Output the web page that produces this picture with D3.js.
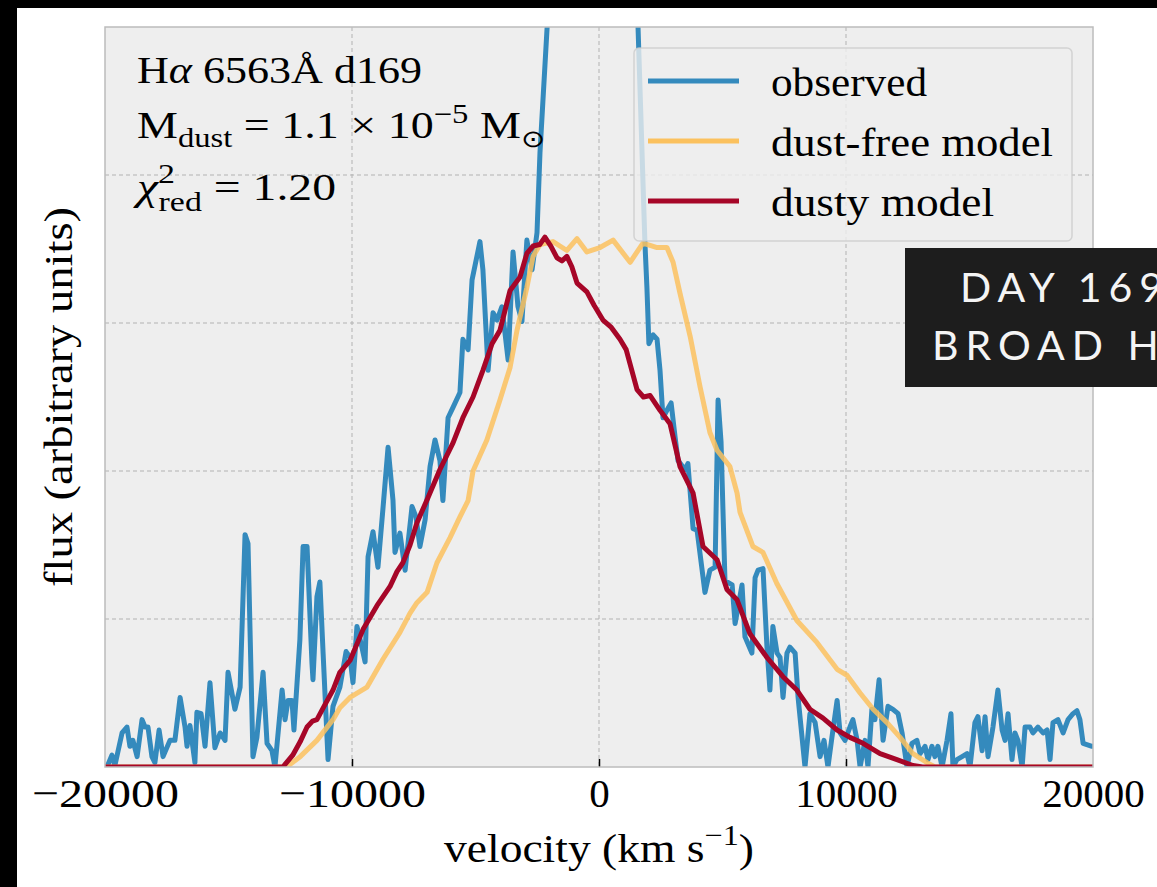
<!DOCTYPE html>
<html>
<head>
<meta charset="utf-8">
<script src="https://cdn.jsdelivr.net/npm/d3@7"></script>
<style>
    html, body { margin: 0; padding: 0; background: #000; }
    svg { display: block; }
</style>
</head>
<body>
<svg id="chart" width="1157" height="887"></svg>
<script>
//
// DATA
//
const xTicks = [-20000, -10000, 0, 10000, 20000]
const yGrid = [1, 2, 3, 4]
const seriesNames = ['observed', 'dust-free model', 'dusty model']
const seriesColors = ['#348ABD', '#FBC15E', '#A60628']

// [velocity km/s, flux in arbitrary units]
const observed = [
    [-20000, 0.02], [-19920, 0.0], [-19720, 0.08], [-19600, 0.01], [-19310, 0.23], [-19110, 0.27],
    [-18990, 0.14], [-18870, 0.18], [-18700, 0.07], [-18500, 0.32], [-18380, 0.27], [-18260, 0.27],
    [-18100, 0.07], [-17980, 0.03], [-17810, 0.25], [-17650, 0.07], [-17370, 0.18], [-17170, 0.18],
    [-16960, 0.47], [-16760, 0.27], [-16680, 0.14], [-16560, 0.28], [-16360, 0.03], [-16280, 0.37],
    [-16110, 0.36], [-15950, 0.14], [-15750, 0.57], [-15550, 0.13], [-15340, 0.23], [-15140, 0.18],
    [-15020, 0.64], [-14740, 0.39], [-14530, 0.54], [-14330, 1.57], [-14210, 1.51], [-14010, 0.07],
    [-13850, 0.2], [-13600, 0.64], [-13440, 0.16], [-13240, 0.11], [-13120, 0.0], [-12830, 0.52],
    [-12710, 0.32], [-12590, 0.45], [-12430, 0.45], [-12350, 0.25], [-12110, 0.86], [-11980, 1.49],
    [-11820, 1.49], [-11620, 0.7], [-11580, 0.59], [-11420, 1.15], [-11300, 1.25], [-11170, 0.77],
    [-10970, 0.05], [-10770, 0.41], [-10490, 0.54], [-10240, 0.78], [-10080, 0.74], [-9960, 0.57],
    [-9800, 0.95], [-9600, 0.81], [-9470, 0.71], [-9350, 1.42], [-9150, 1.59], [-8950, 1.35],
    [-8750, 1.74], [-8540, 2.16], [-8340, 1.8], [-8260, 1.45], [-8060, 1.58], [-7850, 1.33],
    [-7570, 1.76], [-7410, 1.69], [-7250, 1.49], [-7040, 1.67], [-6840, 2.03], [-6640, 2.21],
    [-6440, 2.07], [-6320, 1.8], [-6110, 2.36], [-5910, 2.43], [-5630, 2.53], [-5510, 2.89],
    [-5300, 2.82], [-5140, 3.29], [-4820, 3.55], [-4700, 3.36], [-4490, 2.68], [-4290, 3.07],
    [-4130, 3.02], [-3930, 3.11], [-3680, 2.75], [-3480, 3.48], [-3280, 3.11], [-3120, 3.01],
    [-2920, 3.56], [-2710, 3.36], [-2510, 3.61], [-2390, 4.15], [-2100, 5.0], [-1800, 8.0],
    [-1200, 11.5], [-500, 13.5], [200, 13.0], [900, 10.0], [1400, 7.0], [1580, 5.0],
    [1860, 3.54], [1940, 3.24], [2020, 2.86], [2190, 2.92], [2350, 2.89], [2470, 2.68],
    [2590, 2.36], [2750, 2.41], [2920, 2.46], [3080, 2.23], [3200, 2.07], [3480, 2.01],
    [3600, 2.05], [3810, 1.61], [3970, 1.6], [4290, 1.18], [4490, 1.33], [4700, 1.35],
    [4820, 2.48], [4940, 2.2], [5100, 1.26], [5390, 1.23], [5510, 0.97], [5790, 1.23],
    [5910, 0.88], [6190, 0.77], [6320, 1.28], [6440, 1.33], [6640, 1.34], [6800, 0.81],
    [6920, 0.52], [7040, 0.95], [7210, 0.77], [7330, 0.74], [7450, 0.47], [7610, 0.77],
    [7730, 0.81], [7940, 0.77], [8060, 0.47], [8340, 0.0], [8540, 0.36], [8750, 0.3],
    [8950, 0.07], [9110, 0.18], [9270, 0.0], [9430, 0.2], [9640, 0.45], [9760, 0.23],
    [9960, 0.18], [10160, 0.27], [10280, 0.32], [10450, 0.18], [10570, 0.0], [10770, 0.18],
    [10890, 0.0], [11050, 0.39], [11170, 0.32], [11340, 0.59], [11500, 0.18], [11700, 0.41],
    [11900, 0.39], [12110, 0.36], [12270, 0.23], [12470, 0.0], [12670, 0.16], [12870, 0.18],
    [13000, 0.09], [13200, 0.14], [13320, 0.05], [13480, 0.14], [13600, 0.07], [13720, 0.14],
    [13890, 0.0], [14090, 0.18], [14250, 0.36], [14330, 0.0], [14490, 0.05], [14700, 0.07],
    [14900, 0.09], [15020, 0.0], [15220, 0.3], [15340, 0.34], [15510, 0.11], [15630, 0.34],
    [15750, 0.07], [15950, 0.27], [16150, 0.52], [16320, 0.25], [16440, 0.18], [16560, 0.36],
    [16720, 0.05], [16840, 0.23], [16960, 0.18], [17130, 0.0], [17250, 0.27], [17450, 0.27],
    [17570, 0.23], [17770, 0.27], [17980, 0.23], [18140, 0.25], [18260, 0.05], [18380, 0.3],
    [18580, 0.32], [18790, 0.23], [18990, 0.32], [19190, 0.36], [19350, 0.38], [19470, 0.32],
    [19600, 0.16], [19960, 0.14], [20000, 0.14]
]

const dustFree = [
    [-20000, 0], [-12650, 0], [-12100, 0.07], [-11420, 0.18], [-10770, 0.32], [-10490, 0.4],
    [-10080, 0.47], [-9390, 0.54], [-8740, 0.73], [-8060, 0.91], [-7650, 1.04], [-7370, 1.11],
    [-6960, 1.18], [-6560, 1.38], [-6030, 1.55], [-5630, 1.69], [-5300, 1.8], [-5100, 2.0],
    [-4540, 2.21], [-4010, 2.48], [-3600, 2.7], [-3320, 2.95], [-2920, 3.24], [-2670, 3.45],
    [-2390, 3.53], [-1860, 3.55], [-1300, 3.49], [-890, 3.57], [-490, 3.48], [40, 3.51],
    [570, 3.56], [1260, 3.41], [1780, 3.54], [2350, 3.51], [2750, 3.51], [3000, 3.41],
    [3280, 3.2], [3690, 2.91], [4090, 2.57], [4490, 2.26], [4780, 2.14], [5300, 2.03],
    [5590, 1.85], [5710, 1.72], [6230, 1.49], [6640, 1.45], [7200, 1.24], [8010, 0.99],
    [8830, 0.84], [9640, 0.66], [10040, 0.62], [10570, 0.5], [11100, 0.39], [11660, 0.3],
    [12190, 0.2], [12710, 0.09], [13280, 0.03], [13600, 0], [20000, 0]
]

const dusty = [
    [-20000, 0], [-12800, 0], [-12400, 0.08], [-12100, 0.17], [-11820, 0.27], [-11600, 0.31],
    [-11420, 0.32], [-11100, 0.42], [-10770, 0.52], [-10490, 0.64], [-10080, 0.72], [-9550, 0.93],
    [-8990, 1.09], [-8460, 1.22], [-8180, 1.32], [-7940, 1.38], [-7650, 1.5], [-7370, 1.65],
    [-6925, 1.82], [-6440, 2.01], [-5910, 2.19], [-5510, 2.36], [-5100, 2.5], [-4700, 2.68],
    [-4330, 2.86], [-4010, 2.95], [-3600, 3.22], [-3200, 3.31], [-2920, 3.47], [-2670, 3.52],
    [-2400, 3.53], [-2190, 3.58], [-1950, 3.52], [-1700, 3.44], [-1500, 3.42], [-1300, 3.45],
    [-1100, 3.38], [-890, 3.27], [-490, 3.21], [-200, 3.12], [160, 3.02], [500, 2.97],
    [850, 2.89], [1100, 2.82], [1540, 2.55], [1800, 2.5], [2070, 2.51], [2470, 2.41],
    [2875, 2.32], [3280, 2.03], [3810, 1.85], [4210, 1.49], [4780, 1.4], [5180, 1.2],
    [5590, 1.13], [6110, 0.9], [6800, 0.74], [7450, 0.61], [8010, 0.52], [8540, 0.39],
    [9070, 0.33], [9640, 0.25], [10160, 0.2], [10690, 0.16], [11380, 0.09], [12060, 0.05],
    [12710, 0.01], [13100, 0], [20000, 0]
]

//
// LAYOUT
//
const W = 1157
const H = 887
const plot = { left: 105, right: 1093, top: 27, bottom: 767 }
const serif = "'Liberation Serif', 'Times New Roman', serif"
// Computer Modern's minus sign runs wider than Times, stretch negative labels
const widen = 1.17

const svg = d3.select('#chart')

// figure background: black strips at top and left, white page
svg.append('rect').attr('width', W).attr('height', H).attr('fill', '#000')
svg.append('rect')
    .attr('x', 17)
    .attr('y', 8)
    .attr('width', W - 17)
    .attr('height', H - 8)
    .attr('fill', '#fff')

// scales
const x = d3.scaleLinear().domain([-20000, 20000]).range([plot.left, plot.right])
const y = d3.scaleLinear().domain([0, 5]).range([plot.bottom, plot.top])

// axes background
svg.append('rect')
    .attr('x', plot.left)
    .attr('y', plot.top)
    .attr('width', plot.right - plot.left)
    .attr('height', plot.bottom - plot.top)
    .attr('fill', '#eeeeee')

// dashed grid
const grid = svg.append('g').attr('stroke', '#b2b2b2').attr('stroke-width', 1).attr('stroke-dasharray', '4,3')
grid.selectAll('.gx')
    .data(xTicks.slice(1, -1))
    .enter()
    .append('line')
    .attr('x1', d => x(d))
    .attr('x2', d => x(d))
    .attr('y1', plot.top)
    .attr('y2', plot.bottom)
grid.selectAll('.gy')
    .data(yGrid)
    .enter()
    .append('line')
    .attr('x1', plot.left)
    .attr('x2', plot.right)
    .attr('y1', d => y(d))
    .attr('y2', d => y(d))

// clip the spectra to the axes
svg.append('clipPath')
    .attr('id', 'plotClip')
    .append('rect')
    .attr('x', plot.left)
    .attr('y', plot.top)
    .attr('width', plot.right - plot.left)
    .attr('height', plot.bottom - plot.top)

const line = d3.line().x(d => x(d[0])).y(d => y(d[1]))
const series = [observed, dustFree, dusty]
const opacities = [1, 0.85, 1]

svg.append('g')
    .attr('clip-path', 'url(#plotClip)')
    .selectAll('path')
    .data(series)
    .enter()
    .append('path')
    .attr('d', d => line(d))
    .attr('fill', 'none')
    .attr('stroke', (d, i) => seriesColors[i])
    .attr('stroke-opacity', (d, i) => opacities[i])
    .attr('stroke-width', 5)
    .attr('stroke-linejoin', 'round')

// x axis: ticks point inward, labels below
const xAxis = d3.axisBottom(x)
    .tickValues(xTicks)
    .tickSizeInner(-8)
    .tickSizeOuter(0)
    .tickPadding(11)
    .tickFormat(d3.format('d'))
const gx = svg.append('g').attr('transform', `translate(0,${plot.bottom})`).call(xAxis)
gx.select('.domain').remove()
gx.selectAll('.tick line')
    .filter(d => Math.abs(d) === 20000)
    .remove()
gx.selectAll('.tick line').attr('stroke', '#000').attr('stroke-width', 1.5)
gx.selectAll('text')
    .attr('font-family', serif)
    .attr('font-size', 41)
    .attr('fill', '#000')
    .filter(d => d < 0)
    .each(function () {
        d3.select(this)
            .attr('textLength', this.getComputedTextLength() * widen)
            .attr('lengthAdjust', 'spacingAndGlyphs')
    })

// frame
svg.append('rect')
    .attr('x', plot.left)
    .attr('y', plot.top)
    .attr('width', plot.right - plot.left)
    .attr('height', plot.bottom - plot.top)
    .attr('fill', 'none')
    .attr('stroke', '#bcbcbc')
    .attr('stroke-width', 1.5)

// axis titles
const xTitle = svg.append('text')
    .attr('x', (plot.left + plot.right) / 2)
    .attr('y', 862)
    .attr('text-anchor', 'middle')
    .attr('font-family', serif)
    .attr('font-size', 41)
    .attr('textLength', 310)
    .attr('lengthAdjust', 'spacingAndGlyphs')
xTitle.append('tspan').text('velocity (km s')
xTitle.append('tspan').attr('font-size', 29).attr('dy', -17).text('−1')
xTitle.append('tspan').attr('dy', 17).text(')')

svg.append('text')
    .attr('transform', `translate(72,${(plot.top + plot.bottom) / 2}) rotate(-90)`)
    .attr('text-anchor', 'middle')
    .attr('font-family', serif)
    .attr('font-size', 41)
    .attr('textLength', 380)
    .attr('lengthAdjust', 'spacingAndGlyphs')
    .text('flux (arbitrary units)')

// annotation in the upper left corner
const note = svg.append('g').attr('font-family', serif).attr('font-size', 38).attr('fill', '#000')
const l1 = note.append('text').attr('x', 137).attr('y', 83)
    .attr('textLength', 285).attr('lengthAdjust', 'spacingAndGlyphs')
l1.append('tspan').text('H')
l1.append('tspan').attr('font-style', 'italic').text('α')
l1.append('tspan').text(' 6563Å d169')

const l2 = note.append('text').attr('x', 137).attr('y', 138)
    .attr('textLength', 408).attr('lengthAdjust', 'spacingAndGlyphs')
l2.append('tspan').text('M')
l2.append('tspan').attr('font-size', 27).attr('dy', 9).text('dust')
l2.append('tspan').attr('dy', -9).text(' = 1.1 × 10')
l2.append('tspan').attr('font-size', 27).attr('dy', -15).text('−5')
l2.append('tspan').attr('dy', 15).text(' M')
l2.append('tspan').attr('font-size', 24).attr('dy', 9).text('⊙')

const l3 = note.append('text').attr('x', 137).attr('y', 200)
    .attr('textLength', 199).attr('lengthAdjust', 'spacingAndGlyphs')
l3.append('tspan').attr('font-style', 'italic').text('χ')
l3.append('tspan').attr('font-size', 27).attr('dy', -17).text('2')
l3.append('tspan').attr('font-size', 27).attr('dx', -13).attr('dy', 28).text('red')
l3.append('tspan').attr('dy', -11).text(' = 1.20')

// legend
const legendWidths = [156, 282, 223]
const legend = svg.append('g')
legend.append('rect')
    .attr('x', 634)
    .attr('y', 48)
    .attr('width', 438)
    .attr('height', 193)
    .attr('rx', 5)
    .attr('fill', '#eeeeee')
    .attr('fill-opacity', 0.8)
    .attr('stroke', '#cccccc')
    .attr('stroke-opacity', 0.8)
    .attr('stroke-width', 1.5)
const items = legend.selectAll('.item')
    .data(seriesNames)
    .enter()
    .append('g')
    .attr('transform', (d, i) => `translate(0,${81 + i * 60})`)
items.append('line')
    .attr('x1', 648)
    .attr('x2', 739)
    .attr('stroke', (d, i) => seriesColors[i])
    .attr('stroke-width', 5)
items.append('text')
    .attr('x', 771)
    .attr('y', 15)
    .attr('font-family', serif)
    .attr('font-size', 41)
    .attr('textLength', (d, i) => legendWidths[i])
    .attr('lengthAdjust', 'spacingAndGlyphs')
    .text(d => d)

// dark caption box laid over the figure
svg.append('rect')
    .attr('x', 905)
    .attr('y', 248)
    .attr('width', W - 905)
    .attr('height', 139)
    .attr('fill', '#1d1d1d')
const caption = svg.append('g')
    .attr('font-family', "Lato, 'Open Sans', sans-serif")
    .attr('font-size', 41)
    .attr('letter-spacing', 7)
    .attr('fill', '#f4f4f4')
caption.append('text').attr('x', 960).attr('y', 302).text('DAY 169')
caption.append('text').attr('x', 932).attr('y', 360).text('BROAD Hα')
</script>
</body>
</html>
